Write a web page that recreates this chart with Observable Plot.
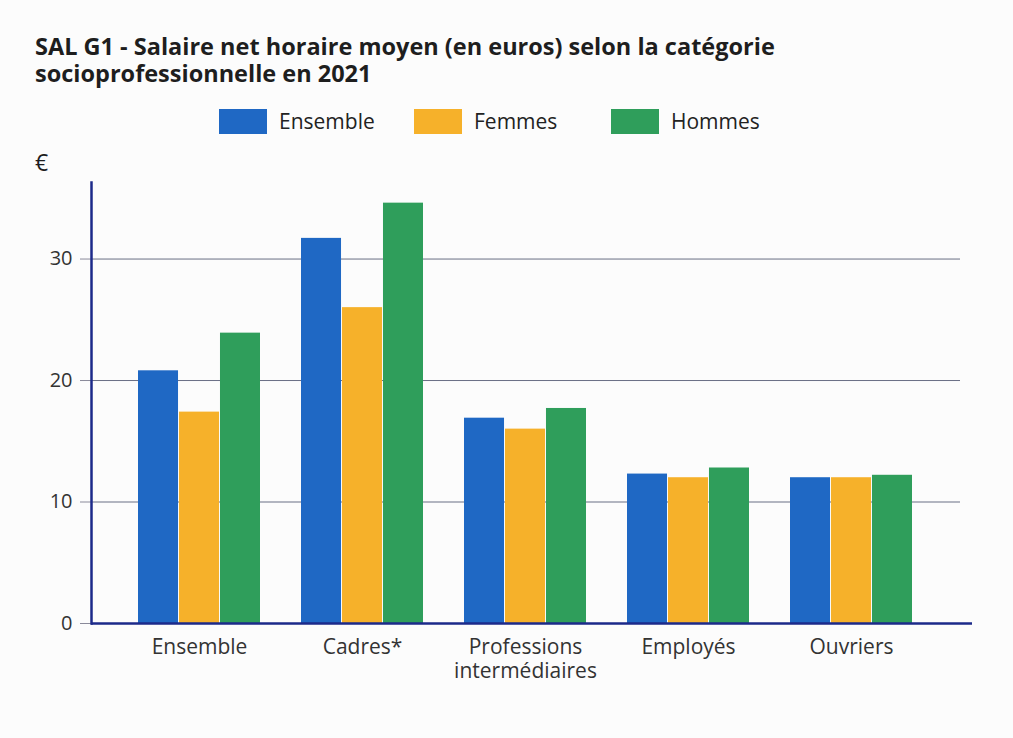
<!DOCTYPE html>
<html>
<head>
<meta charset="utf-8">
<script src="https://cdn.jsdelivr.net/npm/d3@7"></script>
<script src="https://cdn.jsdelivr.net/npm/@observablehq/plot@0.6"></script>
<style>
  html, body { margin: 0; padding: 0; background: #fcfcfc; }
  body { width: 1013px; height: 738px; position: relative; overflow: hidden; font-family: "Open Sans", sans-serif; color: #1e1e1e; }
  #title { position: absolute; left: 35px; top: 33px; font-size: 23.5px; line-height: 26.5px; font-weight: 700; }
  .leg { position: absolute; top: 107px; display: flex; align-items: center; font-size: 21px; color: #222; }
  .sw { width: 48px; height: 25px; margin-right: 12px; }
  #euro { position: absolute; left: 35px; top: 146px; font-size: 23px; }
  #chart { position: absolute; left: 0; top: 140px; }
</style>
</head>
<body>
<div id="title"><div>SAL G1 - Salaire net horaire moyen (en euros) selon la catégorie</div><div>socioprofessionnelle en 2021</div></div>
<div id="legend"></div>
<div id="euro">€</div>
<div id="chart"></div>
<script>
const categories = ["Ensemble", "Cadres*", "Professions\nintermédiaires", "Employés", "Ouvriers"];
const series = ["Ensemble", "Femmes", "Hommes"];
const ensemble = [20.8, 31.7, 16.9, 12.3, 12.0];
const femmes = [17.4, 26.0, 16.0, 12.0, 12.0];
const hommes = [23.9, 34.6, 17.7, 12.8, 12.2];
const colors = ["#1f68c4", "#f6b12a", "#2f9e5b"];
const yTicks = [0, 10, 20, 30];

const values = [ensemble, femmes, hommes];
const data = [];
series.forEach((s, si) => categories.forEach((c, ci) => data.push({cat: c, series: s, value: values[si][ci]})));

// legend
const legendX = [219, 414, 611];
const legendEl = document.getElementById("legend");
series.forEach((s, i) => {
  const d = document.createElement("div");
  d.className = "leg";
  d.style.left = legendX[i] + "px";
  d.innerHTML = `<div class="sw" style="background:${colors[i]}"></div><span>${s}</span>`;
  legendEl.appendChild(d);
});

const width = 1013, marginLeft = 91, marginRight = 53;
const paddingInner = 0.25, paddingOuter = 0.275;
const step = (width - marginLeft - marginRight) / (categories.length - paddingInner + 2 * paddingOuter);
const bw = step * (1 - paddingInner);
const third = bw / 3;

const bars = series.map((s, i) => Plot.barY(data.filter(d => d.series === s), {
  x: "cat", y: "value", fill: colors[i],
  insetLeft: i * third, insetRight: (2 - i) * third
}));

const chart = Plot.plot({
  width, height: 598,
  marginTop: 42, marginBottom: 115, marginLeft, marginRight,
  style: {fontFamily: "Open Sans, sans-serif", fontSize: "20px", background: "transparent", color: "#333"},
  x: {domain: categories, paddingInner, paddingOuter, label: null},
  y: {domain: [0, 36.3], label: null},
  marks: [
    Plot.gridY(yTicks, {stroke: "#5a5f78", strokeOpacity: 0.9, strokeWidth: 1}),
    Plot.axisY(yTicks, {tickSize: 11, tickPadding: 8, stroke: "#8a8a9a", fontSize: 20, fill: "#333", label: null}),
    Plot.axisX({tickSize: 0, tickPadding: 13, fontSize: 21, lineHeight: 1.15, fill: "#333", label: null}),
    ...bars,
    Plot.frame({anchor: "left", stroke: "#1c2a8a", strokeWidth: 2.5}),
    Plot.ruleY([0], {stroke: "#1c2a8a", strokeWidth: 2.5, insetRight: -12})
  ]
});
document.getElementById("chart").appendChild(chart);
</script>
</body>
</html>
